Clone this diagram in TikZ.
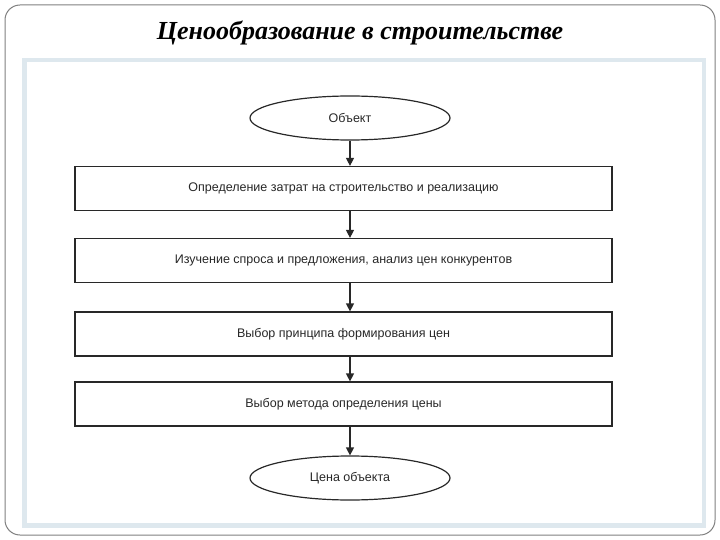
\documentclass[tikz,border=0pt]{standalone}
\usepackage{fontspec}
\setmainfont{Liberation Serif}
\newfontfamily\boxfont{Liberation Sans}
\usetikzlibrary{shapes.geometric,arrows.meta}
\definecolor{panel}{RGB}{222,232,238}
\definecolor{ink}{RGB}{40,40,40}
\tikzset{
  stepbox/.style={draw=ink,line width=1.2pt,minimum width=537pt,minimum height=44pt,font=\boxfont\fontsize{12.5}{14}\selectfont,text=ink},
  oval/.style={ellipse,draw=ink,line width=1.2pt,minimum width=200pt,minimum height=44pt,font=\boxfont\fontsize{12.5}{14}\selectfont,text=ink},
  link/.style={draw=ink,line width=1.2pt,-{Triangle[length=8pt,width=8pt]}}
}
\begin{document}
\begin{tikzpicture}[x=1pt,y=-1pt]
\useasboundingbox (0,0) rectangle (720,540);
\fill[white] (0,0) rectangle (720,540);
\draw[gray,line width=1pt,rounded corners=15pt] (5,5) rectangle (715,535);
\node[font=\bfseries\itshape\fontsize{26}{30}\selectfont] (title) at (360,33) {Ценообразование в строительстве};
\fill[panel] (22,58) rectangle (706,528);
\fill[white] (27,62) rectangle (702,523);
\node[oval] (o) at (350,118) {Объект};
\node[stepbox] (b1) at (343.5,188.5) {Определение затрат на строительство и реализацию};
\node[stepbox] (b2) at (343.5,260.5) {Изучение спроса и предложения, анализ цен конкурентов};
\node[stepbox] (b3) at (343.5,334) {Выбор принципа формирования цен};
\node[stepbox] (b4) at (343.5,404) {Выбор метода определения цены};
\node[oval] (e) at (350,478) {Цена объекта};
\draw[link] (o.south) -- (o.south |- b1.north);
\draw[link] (o.south |- b1.south) -- (o.south |- b2.north);
\draw[link] (o.south |- b2.south) -- (o.south |- b3.north);
\draw[link] (o.south |- b3.south) -- (o.south |- b4.north);
\draw[link] (o.south |- b4.south) -- (e.north);
\end{tikzpicture}
\end{document}
